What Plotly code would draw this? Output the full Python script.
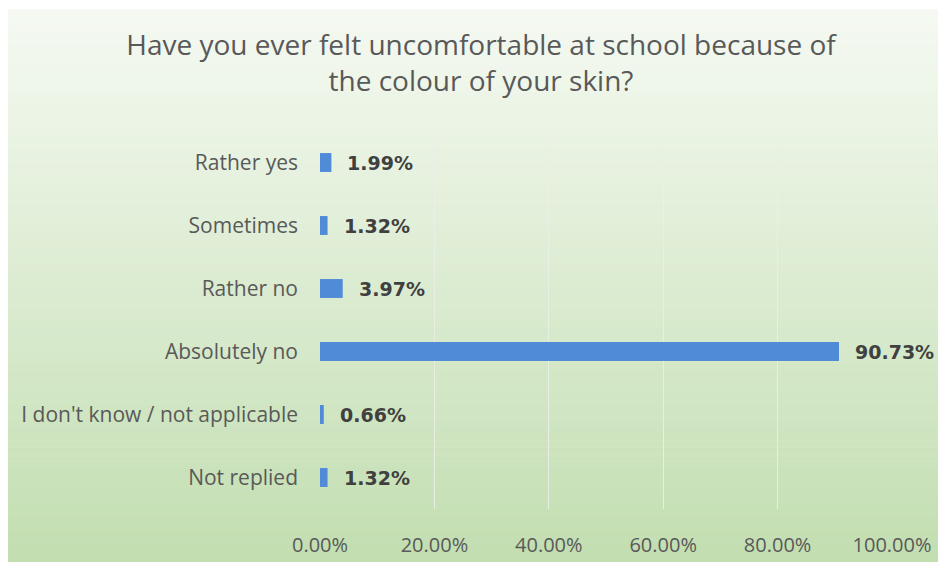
import plotly.graph_objects as go

# ---- data ----
categories = ["Rather yes", "Sometimes", "Rather no", "Absolutely no",
              "I don't know / not applicable", "Not replied"]
values = [1.99, 1.32, 3.97, 90.73, 0.66, 1.32]
tick_values = [0, 20, 40, 60, 80, 100]
tick_labels = ["0.00%", "20.00%", "40.00%", "60.00%", "80.00%", "100.00%"]
title_text = "Have you ever felt uncomfortable at school because of<br>the colour of your skin?"

# ---- geometry (figure pixels) ----
W, H = 946, 562
L, R, T, B = 312, 62, 123, 57
pw, ph = W - L - R, H - T - B

def px_to_paper_x(px):
    return (px - L) / pw

def py_to_paper_y(py):
    return (H - B - py) / ph

# gradient background (style only)
top_rgb = (245, 249, 242)
bot_rgb = (194, 222, 176)
shapes = []
n = 80
for i in range(n):
    a = H * i / n
    b = H * (i + 1) / n + 0.6
    t = i / (n - 1)
    c = tuple(round(top_rgb[k] + (bot_rgb[k] - top_rgb[k]) * t) for k in range(3))
    shapes.append(dict(type="rect", xref="paper", yref="paper",
                       x0=px_to_paper_x(-2), x1=px_to_paper_x(W + 2),
                       y0=py_to_paper_y(b), y1=py_to_paper_y(a),
                       fillcolor="rgb(%d,%d,%d)" % c, line=dict(width=0),
                       layer="below"))

fig = go.Figure()
fig.add_trace(go.Bar(
    x=values, y=categories, orientation="h",
    marker=dict(color="#4F8BD6", line=dict(width=0)),
    width=0.3, hoverinfo="skip",
))

annotations = []
for cat, v in zip(categories, values):
    annotations.append(dict(x=v, y=cat, xref="x", yref="y",
                            text="<b>%.2f%%</b>" % v, showarrow=False,
                            xanchor="left", yanchor="middle", xshift=14,
                            font=dict(family="DejaVu Sans", size=19, color="#404040")))

fig.update_layout(
    width=W, height=H,
    margin=dict(l=L, r=R, t=T, b=B, pad=0),
    paper_bgcolor="white",
    plot_bgcolor="rgba(0,0,0,0)",
    shapes=shapes,
    annotations=annotations,
    showlegend=False,
    title=dict(text=title_text, x=473 / W, xanchor="center",
               y=1 - 47 / H, yanchor="top",
               font=dict(family="Open Sans", size=28, color="#595959")),
    xaxis=dict(range=[0, 100], tickvals=tick_values, ticktext=tick_labels,
               showgrid=True, gridcolor="rgba(235,238,232,0.9)", gridwidth=1,
               zeroline=False, showline=False, ticks="",
               ticklabelstandoff=22,
               tickfont=dict(family="Open Sans", size=20, color="#595959")),
    yaxis=dict(autorange="reversed", showgrid=False, zeroline=False,
               showline=False, ticks="", ticklabelstandoff=21,
               tickfont=dict(family="Open Sans", size=21, color="#595959")),
)

fig.write_html("out.html")
